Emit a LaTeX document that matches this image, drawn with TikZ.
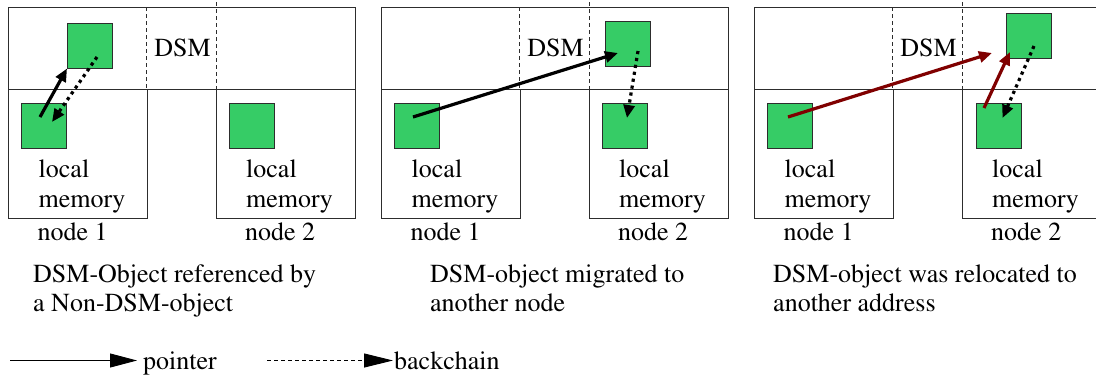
\documentclass[tikz,border=0pt]{standalone}
\usepackage[T1]{fontenc}
\usepackage{times}
\usetikzlibrary{arrows.meta,calc}
\definecolor{objgreen}{RGB}{54,204,102}
\definecolor{edgegray}{RGB}{45,45,45}
\definecolor{ptrred}{RGB}{128,0,0}

\tikzset{
  frame/.style={draw=edgegray,line width=0.9pt},
  divider/.style={draw=edgegray,line width=0.9pt,dash pattern=on 4pt off 3pt},
  obj/.style={draw=edgegray,fill=objgreen,line width=0.9pt,
    minimum width=45pt,minimum height=45pt,inner sep=0pt,outer sep=0pt},
  lbl/.style={anchor=base west,inner sep=0pt,font=\rmfamily\fontsize{26}{30}\selectfont},
  ptr/.style={line width=3.2pt,-{Triangle[length=13pt,width=11pt]}},
  back/.style={line width=3.2pt,dash pattern=on 3.2pt off 3.8pt,
    -{Triangle[length=13pt,width=11pt]}},
  % one panel: DSM strip on top, two local memories below
  panelframe/.pic={
    \draw[frame] (0,7) rectangle (347,89);
    \draw[frame] (0,89) rectangle (139,218);
    \draw[frame] (208.5,89) rectangle (347,218);
    \draw[divider] (138.5,7) -- (138.5,89);
    \draw[divider] (208.5,2) -- (208.5,89);
    \node[lbl,anchor=base] (dsm) at (174.5,56) {DSM};
    \node[lbl] (lm1a) at (30.5,177) {local};
    \node[lbl] (lm1b) at (30.5,207) {memory};
    \node[lbl] (lm2a) at (238,177) {local};
    \node[lbl] (lm2b) at (238,207) {memory};
    \node[lbl] (n1) at (29.5,240) {node 1};
    \node[lbl] (n2) at (237,240) {node 2};
  }
}

\begin{document}
\begin{tikzpicture}[x=1pt,y=-1pt]
\useasboundingbox (0,0) rectangle (1096,378);
\fill[white] (0,0) rectangle (1096,378);

% ---- the three panels
\pic (pa) at (8,0) {panelframe};
\pic (pb) at (381,0) {panelframe};
\pic (pc) at (754,0) {panelframe};

% ---- objects, panel 1
\node[obj] (a-up) at (89.5,46) {};
\node[obj] (a-l1) at (44,125.5) {};
\node[obj] (a-l2) at (252,125.5) {};
\draw[ptr] ($(a-l1.center)+(-4,-8.5)$) -- (a-up.south west);
\draw[back] ($(a-up.center)+(7.5,11)$) -- ($(a-l1.center)+(8,-3.5)$);

% ---- objects, panel 2
\node[obj] (b-up) at (627.5,43.5) {};
\node[obj] (b-l1) at (416.5,125.5) {};
\node[obj] (b-l2) at (624.5,125.5) {};
\draw[ptr] ($(b-l1.center)+(-3.5,-8.5)$) -- ($(b-up.center)+(-9.5,9.5)$);
\draw[back] ($(b-up.center)+(10.5,7.5)$) -- ($(b-l2.center)+(2.5,-7.5)$);

% ---- objects, panel 3
\node[obj] (c-up) at (1028.5,35.5) {};
\node[obj] (c-l1) at (790,125.5) {};
\node[obj] (c-l2) at (998.5,125.5) {};
\draw[ptr,draw=ptrred,fill=ptrred] ($(c-l1.center)+(-2,-8.5)$) -- ($(c-up.center)+(-36.5,17.5)$);
\draw[ptr,draw=ptrred,fill=ptrred] ($(c-l2.center)+(-14.5,-17.5)$) -- ($(c-up.center)+(-18.5,16.5)$);
\draw[back] ($(c-up.center)+(5.5,10.5)$) -- ($(c-l2.center)+(4,-7.5)$);

% ---- captions
\node[lbl] (capa1) at (33,282) {DSM-Object referenced by};
\node[lbl] (capa2) at (33,311) {a Non-DSM-object};
\node[lbl] (capb1) at (430,282) {DSM-object migrated to};
\node[lbl] (capb2) at (430,311) {another node};
\node[lbl] (capc1) at (773,282) {DSM-object was relocated to};
\node[lbl] (capc2) at (773,311) {another address};

% ---- legend
\coordinate (lp0) at (10,360.5);
\coordinate (lp1) at (137,360.5);
\node[lbl] (lptr) at (143,369) {pointer};
\draw[line width=0.9pt,-{Triangle[length=27pt,width=14pt]}] (lp0) -- (lp1);
\coordinate (lb0) at (267,360.5);
\coordinate (lb1) at (393,360.5);
\node[lbl] (lback) at (394,369) {backchain};
\draw[line width=0.9pt,dash pattern=on 4pt off 3pt,-{Triangle[length=29pt,width=14pt]}] (lb0) -- (lb1);
\end{tikzpicture}
\end{document}
